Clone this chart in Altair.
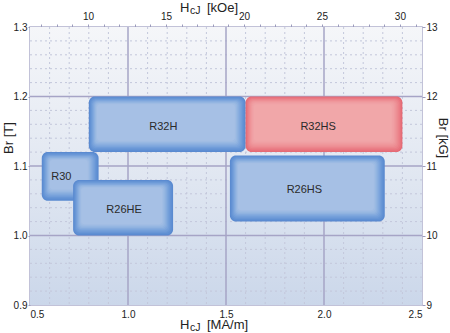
import altair as alt
import pandas as pd

# ---- data ----
names   = ["R30", "R32H", "R32HS", "R26HE", "R26HS"]
hcj_lo  = [0.56, 0.80, 1.60, 0.72, 1.52]     # HcJ [MA/m]
hcj_hi  = [0.85, 1.60, 2.40, 1.23, 2.31]
br_lo   = [1.05, 1.12, 1.12, 1.00, 1.02]     # Br [T]
br_hi   = [1.12, 1.20, 1.20, 1.08, 1.115]
tone    = ["blue", "blue", "red", "blue", "blue"]
label_x = [0.66, 1.18, 1.97, 0.98, 1.90]
label_y = [1.084, 1.156, 1.156, 1.037, 1.065]

x_ticks   = [0.5, 1.0, 1.5, 2.0, 2.5]
y_ticks   = [0.9, 1.0, 1.1, 1.2, 1.3]
koe_ticks = list(range(7, 32))
kg_ticks  = [9, 10, 11, 12, 13]
x_major   = [1.0, 1.5, 2.0]
y_major   = [1.0, 1.1, 1.2]
x_minor   = [0.6, 0.7, 0.8, 0.9, 1.1, 1.2, 1.3, 1.4, 1.6, 1.7, 1.8, 1.9, 2.1, 2.2, 2.3, 2.4]
y_minor   = [0.92, 0.94, 0.96, 0.98, 1.02, 1.04, 1.06, 1.08, 1.12, 1.14, 1.16, 1.18,
             1.22, 1.24, 1.26, 1.28]

df = pd.DataFrame(dict(name=names, x1=hcj_lo, x2=hcj_hi, y1=br_lo, y2=br_hi,
                       tone=tone, lx=label_x, ly=label_y))

FONT = "Liberation Sans"
W, H = 392, 278

xs = alt.Scale(domain=[0.5, 2.5], nice=False, zero=False)
ys = alt.Scale(domain=[0.9, 1.3], nice=False, zero=False)
ax_x = alt.Axis(orient="bottom", values=x_ticks, format=".1f", title=None, ticks=False,
                labelPadding=4, grid=False, domain=False)
ax_y = alt.Axis(orient="left", values=y_ticks, format=".1f", title=None, tickSize=2,
                labelPadding=1, grid=False, domain=False)

one = pd.DataFrame({"a": [0]})

# background gradient
bg = alt.Chart(one).mark_rect(
    color=alt.LinearGradient(
        gradient="linear",
        stops=[alt.GradientStop(color="#f5f6f9", offset=0),
               alt.GradientStop(color="#e2e8f2", offset=0.5),
               alt.GradientStop(color="#cbd7ea", offset=1)],
        x1=0, x2=0, y1=0, y2=1)
).encode(x=alt.value(0), x2=alt.value("width"), y=alt.value(0), y2=alt.value("height"))

grid_xminor = alt.Chart(pd.DataFrame({"v": x_minor})).mark_rule(
    color="#c3c7db", strokeWidth=1, strokeDash=[2, 3]
).encode(x=alt.X("v:Q", scale=xs, axis=ax_x))
grid_yminor = alt.Chart(pd.DataFrame({"v": y_minor})).mark_rule(
    color="#c3c7db", strokeWidth=1, strokeDash=[2, 3]
).encode(y=alt.Y("v:Q", scale=ys, axis=ax_y))
grid_xmajor = alt.Chart(pd.DataFrame({"v": x_major})).mark_rule(
    color="#a6a4c6", strokeWidth=1.5
).encode(x=alt.X("v:Q", scale=xs, axis=ax_x))
grid_ymajor = alt.Chart(pd.DataFrame({"v": y_major})).mark_rule(
    color="#a6a4c6", strokeWidth=1.5
).encode(y=alt.Y("v:Q", scale=ys, axis=ax_y))

# bevelled boxes: concentric insets from darker edge to light centre
blue = ["#5a8ad0", "#6090d3", "#6896d6", "#719dd9", "#7ba4dc",
        "#85abde", "#8fb2e0", "#98b8e2", "#a0bce3", "#a6c0e5"]
red  = ["#e56b75", "#e8737d", "#ea7c85", "#ec858c", "#ed8d93",
        "#ee9499", "#ef9a9e", "#f09fa3", "#f0a3a6", "#f1a7a9"]
insets = [0, 1, 2, 3, 4, 5, 6, 7, 8, 9]

box_layers = []
for n in names:
    for d, cb, cr in zip(insets, blue, red):
        box_layers.append(
            alt.Chart(df).transform_filter(alt.datum.name == n).mark_rect(
                cornerRadius=max(6 - 0.4 * d, 3),
                xOffset=d * 0.9, x2Offset=-d * 1.2, yOffset=d * 0.85, y2Offset=-d * 1.25
            ).encode(
                x=alt.X("x1:Q", scale=xs, axis=ax_x), x2="x2:Q",
                y=alt.Y("y2:Q", scale=ys, axis=ax_y), y2="y1:Q",
                color=alt.condition(alt.datum.tone == "red", alt.value(cr), alt.value(cb))
            )
        )

labels = alt.Chart(df).mark_text(fontSize=11, font=FONT, color="#2a2a2a").encode(
    x=alt.X("lx:Q", scale=xs, axis=ax_x), y=alt.Y("ly:Q", scale=ys, axis=ax_y), text="name:N"
)

def txt(t, x, y, size=13, angle=0, align="left", baseline="alphabetic"):
    return alt.Chart(one).mark_text(
        text=t, fontSize=size, font=FONT, color="#222222", angle=angle,
        align=align, baseline=baseline
    ).encode(x=alt.value(x), y=alt.value(y))

titles = [
    # bottom: HcJ  [MA/m]
    txt("H", 150, 302), txt("cJ", 160, 304, size=10.5), txt("[MA/m]", 177, 302),
    # top: HcJ  [kOe]
    txt("H", 150, -15), txt("cJ", 160, -13, size=10.5), txt("[kOe]", 177, -15),
    # left / right
    txt("Br  [T]", -21, 111, angle=270, align="center", baseline="middle"),
    txt("Br  [kG]", 413, 111, angle=90, align="center", baseline="middle"),
]

main = alt.layer(bg, grid_xminor, grid_yminor, grid_xmajor, grid_ymajor,
                 *box_layers, labels, *titles)

top_axis = alt.Chart(pd.DataFrame({"k": koe_ticks})).mark_point(opacity=0).encode(
    x=alt.X("k:Q", scale=alt.Scale(domain=[6.2832, 31.4159], nice=False, zero=False),
            axis=alt.Axis(orient="top", values=koe_ticks, title=None, tickSize=3,
                          labelPadding=3, domain=False, grid=False,
                          labelExpr="datum.value % 5 == 0 ? datum.label : ''"))
)
right_axis = alt.Chart(pd.DataFrame({"g": kg_ticks})).mark_point(opacity=0).encode(
    y=alt.Y("g:Q", scale=alt.Scale(domain=[9, 13], nice=False, zero=False),
            axis=alt.Axis(orient="right", values=kg_ticks, title=None, tickSize=3,
                          labelPadding=1, domain=False, grid=False, format="d"))
)

chart = alt.layer(main, top_axis, right_axis).resolve_scale(
    x="independent", y="independent"
).properties(
    width=W, height=H,
    padding={"left": 30, "top": 27, "right": 28, "bottom": 28},
    autosize=alt.AutoSizeParams(type="none"),
    background="white",
).configure_view(
    stroke="#aeaecb", strokeWidth=1.5
).configure_axis(
    labelFont=FONT, labelFontSize=10, labelColor="#222222", tickColor="#9c9cbc"
)

chart.save("out.html", embed_options={"renderer": "svg", "actions": False})
